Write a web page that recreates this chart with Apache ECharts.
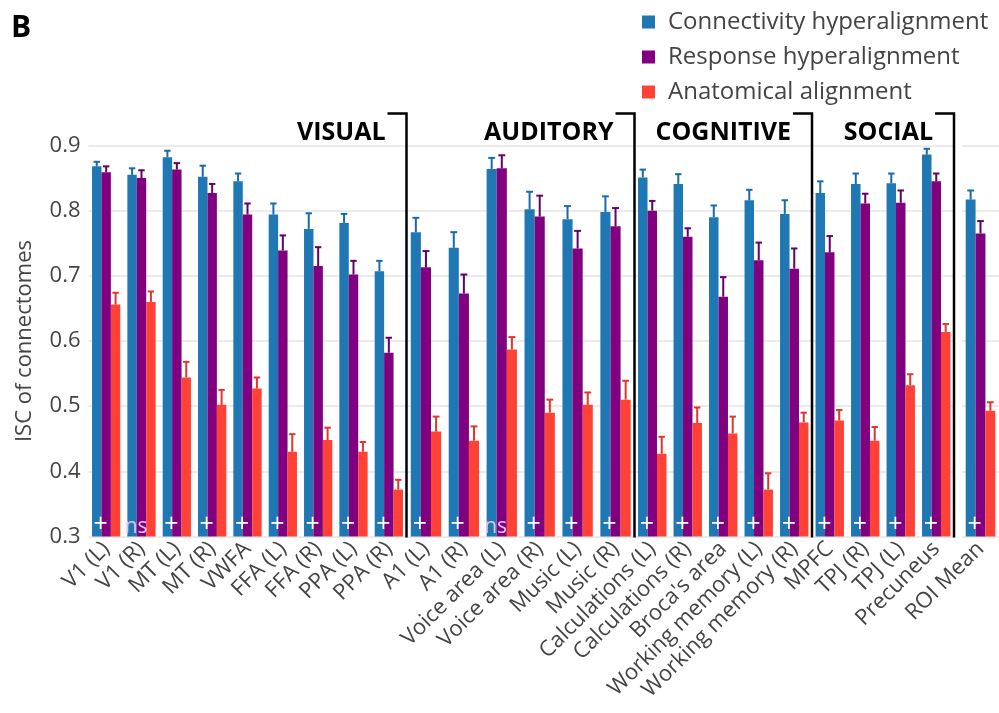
<!DOCTYPE html>
<html>
<head>
<meta charset="utf-8">
<script src="https://cdn.jsdelivr.net/npm/echarts@6/dist/echarts.min.js"></script>
<style>
  html, body { margin: 0; padding: 0; background: #fff; }
  #chart { width: 999px; height: 713px; }
</style>
</head>
<body>
<div id="chart"></div>
<script>
// ROI names, in drawing order
const categories = [
  'V1 (L)', 'V1 (R)', 'MT (L)', 'MT (R)', 'VWFA', 'FFA (L)', 'FFA (R)', 'PPA (L)', 'PPA (R)',
  'A1 (L)', 'A1 (R)', 'Voice area (L)', 'Voice area (R)', 'Music (L)', 'Music (R)',
  'Calculations (L)', 'Calculations (R)', "Broca's area", 'Working memory (L)', 'Working memory (R)',
  'MPFC', 'TPJ (R)', 'TPJ (L)', 'Precuneus',
  'ROI Mean'
]
const groupNames = ['VISUAL', 'AUDITORY', 'COGNITIVE', 'SOCIAL', '']
const groupSizes = [9, 6, 5, 4, 1]

// bar heights and top of the error bars
const connectivity = [0.868, 0.855, 0.882, 0.852, 0.845, 0.794, 0.772, 0.781, 0.707,
  0.767, 0.743, 0.864, 0.802, 0.787, 0.798,
  0.851, 0.841, 0.790, 0.816, 0.795,
  0.827, 0.841, 0.842, 0.886,
  0.817]
const connectivityHi = [0.875, 0.865, 0.892, 0.869, 0.857, 0.811, 0.796, 0.795, 0.723,
  0.789, 0.767, 0.881, 0.829, 0.807, 0.822,
  0.863, 0.856, 0.808, 0.832, 0.816,
  0.845, 0.857, 0.857, 0.895,
  0.831]
const response = [0.859, 0.850, 0.863, 0.827, 0.794, 0.739, 0.715, 0.702, 0.582,
  0.713, 0.673, 0.865, 0.791, 0.742, 0.776,
  0.800, 0.760, 0.668, 0.724, 0.711,
  0.736, 0.811, 0.812, 0.845,
  0.765]
const responseHi = [0.868, 0.862, 0.873, 0.841, 0.811, 0.762, 0.744, 0.723, 0.605,
  0.738, 0.702, 0.885, 0.823, 0.769, 0.804,
  0.815, 0.773, 0.698, 0.751, 0.742,
  0.761, 0.826, 0.831, 0.857,
  0.784]
const anatomical = [0.656, 0.660, 0.544, 0.502, 0.527, 0.430, 0.448, 0.430, 0.372,
  0.461, 0.447, 0.587, 0.490, 0.502, 0.510,
  0.427, 0.474, 0.458, 0.372, 0.475,
  0.478, 0.447, 0.532, 0.614,
  0.493]
const anatomicalHi = [0.674, 0.676, 0.568, 0.525, 0.544, 0.457, 0.467, 0.445, 0.387,
  0.484, 0.469, 0.606, 0.510, 0.521, 0.539,
  0.453, 0.498, 0.484, 0.397, 0.490,
  0.494, 0.468, 0.549, 0.626,
  0.506]
// significance marks printed at the foot of each group
const marks = ['+', 'ns', '+', '+', '+', '+', '+', '+', '+',
  '+', '+', 'ns', '+', '+', '+',
  '+', '+', '+', '+', '+',
  '+', '+', '+', '+',
  '+']
const yTicks = [0.3, 0.9, 0.1] // min, max, step

const seriesDefs = [
  { name: 'Connectivity hyperalignment', vals: connectivity, hi: connectivityHi, color: '#1f77b4', err: '#1b6aa5' },
  { name: 'Response hyperalignment', vals: response, hi: responseHi, color: '#800080', err: '#650066' },
  { name: 'Anatomical alignment', vals: anatomical, hi: anatomicalHi, color: '#ff4136', err: '#e2352b' },
]

// panel layout (px)
const panelLeft = [88.5, 407, 634.5, 812, 962]
const panelRight = [406.5, 634.5, 812, 954, 999]
const plotTop = 145.5
const plotHeight = 391
const catGap = 0.2
const font = "'Open Sans', sans-serif"

const chart = echarts.init(document.getElementById('chart'))

let grid = [], xAxis = [], yAxis = [], series = []
let start = 0
groupSizes.forEach((n, g) => {
  const idx = []
  for (let i = start; i < start + n; i++) idx.push(i)
  grid.push({ left: panelLeft[g], top: plotTop, width: panelRight[g] - panelLeft[g], height: plotHeight })
  xAxis.push({
    type: 'category',
    gridIndex: g,
    data: idx.map(i => categories[i]),
    axisLine: { show: false },
    axisTick: { show: false },
    axisLabel: { interval: 0, rotate: 45, margin: 9, fontSize: 22, color: '#444', fontFamily: font },
  })
  yAxis.push({
    type: 'value',
    gridIndex: g,
    min: yTicks[0],
    max: yTicks[1],
    interval: yTicks[2],
    name: g === 0 ? 'ISC of connectomes' : '',
    nameLocation: 'middle',
    nameGap: 53,
    nameTextStyle: { fontSize: 22, color: '#444', fontFamily: font },
    axisLine: { show: false },
    axisTick: { show: false },
    axisLabel: {
      show: g === 0,
      margin: 8,
      fontSize: 22,
      color: '#444',
      fontFamily: font,
      formatter: v => v.toFixed(1),
    },
    splitLine: { lineStyle: { color: '#ebebeb', width: 2 } },
  })
  seriesDefs.forEach((s, k) => {
    series.push({
      type: 'bar',
      name: s.name,
      xAxisIndex: g,
      yAxisIndex: g,
      barGap: '0%',
      barCategoryGap: catGap * 100 + '%',
      itemStyle: { color: s.color },
      data: idx.map(i => s.vals[i]),
      label: k === 0 ? {
        show: true,
        position: 'insideBottom',
        distance: 2,
        offset: [4, 3],
        fontFamily: font,
        formatter: p => (marks[idx[p.dataIndex]] === 'ns' ? '{n|ns}' : '{p|+}'),
        rich: {
          p: { color: '#fff', fontSize: 25, fontFamily: font },
          n: { color: '#e3c2ee', fontSize: 21, fontFamily: font },
        },
      } : { show: false },
      z: 2,
    })
    // one-sided error bars
    series.push({
      type: 'custom',
      xAxisIndex: g,
      yAxisIndex: g,
      z: 3,
      data: idx.map((i, j) => [j, s.vals[i], s.hi[i]]),
      renderItem: (params, api) => {
        const base = api.coord([api.value(0), api.value(1)])
        const top = api.coord([api.value(0), api.value(2)])
        const band = api.size([1, 0])[0]
        const barW = band * (1 - catGap) / 3
        const x = base[0] + (k - 1) * barW
        const cap = barW * 0.34
        const st = { stroke: s.err, lineWidth: 2 }
        return {
          type: 'group',
          children: [
            { type: 'line', shape: { x1: x, y1: base[1], x2: x, y2: top[1] }, style: st },
            { type: 'line', shape: { x1: x - cap, y1: top[1], x2: x + cap, y2: top[1] }, style: st },
          ],
        }
      },
    })
  })
  start += n
})

// group brackets and titles
const bracketTop = 113.5
const graphic = [{
  type: 'text', left: 11, top: 13,
  style: { text: 'B', font: "bold 30px 'Open Sans', sans-serif", fill: '#000' },
}]
groupNames.slice(0, 4).forEach((name, g) => {
  const x = panelRight[g]
  graphic.push({
    type: 'polyline',
    shape: { points: [[x - 19, bracketTop], [x, bracketTop], [x, plotTop + plotHeight + 1]] },
    style: { stroke: '#000', lineWidth: 2.5, fill: null },
    z: 10,
  })
  graphic.push({
    type: 'text',
    x: x - 21,
    y: 133,
    style: {
      text: name,
      font: "bold 25px 'Open Sans', sans-serif",
      fill: '#000',
      align: 'right',
      verticalAlign: 'middle',
    },
    z: 10,
  })
})

chart.setOption({
  animation: false,
  textStyle: { fontFamily: font },
  legend: {
    data: seriesDefs.map(s => s.name),
    orient: 'vertical',
    left: 637,
    top: 5,
    itemWidth: 13,
    itemHeight: 13,
    itemGap: 11,
    icon: 'rect',
    textStyle: { fontSize: 24, color: '#444', fontFamily: font, padding: [0, 0, 0, 8] },
  },
  grid,
  xAxis,
  yAxis,
  series,
  graphic,
})
</script>
</body>
</html>
